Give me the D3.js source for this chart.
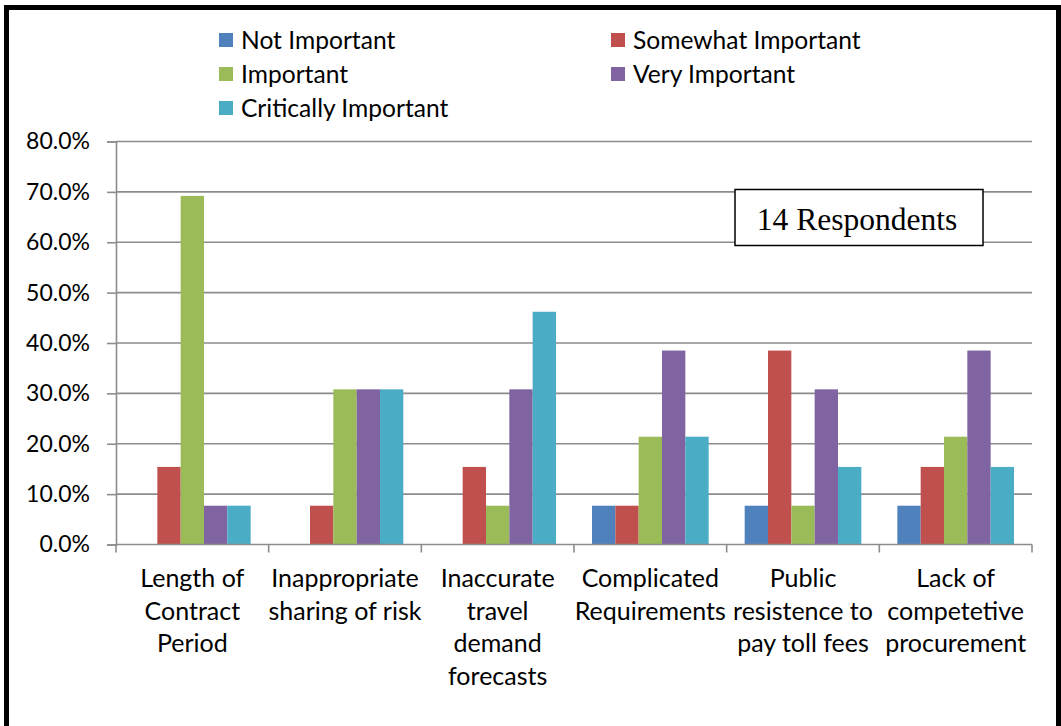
<!DOCTYPE html>
<html>
<head>
<meta charset="utf-8">
<script src="https://cdn.jsdelivr.net/npm/d3@7"></script>
<style>
  html, body { margin: 0; padding: 0; background: #fff; }
  svg { display: block; }
</style>
</head>
<body>
<svg id="chart" width="1061" height="726"></svg>
<script>
// Survey categories (each entry lists the wrapped lines of its axis label)
const categories = [
  ["Length of", "Contract", "Period"],
  ["Inappropriate", "sharing of risk"],
  ["Inaccurate", "travel", "demand", "forecasts"],
  ["Complicated", "Requirements"],
  ["Public", "resistence to", "pay toll fees"],
  ["Lack of", "competetive", "procurement"]
];

const seriesNames = ["Not Important", "Somewhat Important", "Important", "Very Important", "Critically Important"];
const seriesColors = ["#4F81BD", "#C0504D", "#9BBB59", "#8064A2", "#4BACC6"];

// Share of respondents (%) per category, one array per importance level
const notImportant       = [0,    0,    0,    7.7,  7.7,  7.7];
const somewhatImportant  = [15.4, 7.7,  15.4, 7.7,  38.5, 15.4];
const important          = [69.2, 30.8, 7.7,  21.4, 7.7,  21.4];
const veryImportant      = [7.7,  30.8, 30.8, 38.5, 30.8, 38.5];
const criticallyImportant= [7.7,  30.8, 46.2, 21.4, 15.4, 15.4];

const seriesValues = [notImportant, somewhatImportant, important, veryImportant, criticallyImportant];
const yTicks = [0, 10, 20, 30, 40, 50, 60, 70, 80];
const noteText = "14 Respondents";

const svg = d3.select("#chart");
const font = "Lato, 'Open Sans', sans-serif";

// outer frame
svg.append("rect")
  .attr("x", 6.5).attr("y", 7.5)
  .attr("width", 1052).attr("height", 740)
  .attr("fill", "none").attr("stroke", "#000").attr("stroke-width", 5);

const plot = { left: 116, right: 1032, top: 141.5, bottom: 544.5 };

const x0 = d3.scaleBand()
  .domain(d3.range(categories.length))
  .range([plot.left, plot.right])
  .paddingInner(0.236).paddingOuter(0.118);

const x1 = d3.scaleBand()
  .domain(d3.range(seriesNames.length))
  .range([0, x0.bandwidth()]);

const y = d3.scaleLinear().domain([0, 80]).range([plot.bottom, plot.top]);

// gridlines
svg.append("g")
  .selectAll("line")
  .data(yTicks.filter(t => t > 0))
  .join("line")
  .attr("x1", plot.left).attr("x2", plot.right)
  .attr("y1", d => y(d)).attr("y2", d => y(d))
  .attr("stroke", "#8c8c8c").attr("stroke-width", 1.6);

// y axis
const yAxis = svg.append("g")
  .attr("transform", `translate(${plot.left},0)`)
  .call(d3.axisLeft(y).tickValues(yTicks).tickFormat(d => d.toFixed(1) + "%").tickSizeOuter(0).tickSize(9).tickPadding(6));
yAxis.select(".domain").attr("stroke", "#8c8c8c").attr("stroke-width", 1.6);
yAxis.selectAll(".tick line").attr("stroke", "#8c8c8c").attr("stroke-width", 1.6);
yAxis.selectAll(".tick text")
  .attr("fill", "#000").attr("font-family", font).attr("font-size", 23)
  .attr("x", -26).attr("text-anchor", "end");

// bars
const groups = svg.append("g")
  .selectAll("g")
  .data(categories.map((c, i) => i))
  .join("g")
  .attr("transform", i => `translate(${x0(i)},0)`);

groups.selectAll("rect")
  .data(i => seriesValues.map((vals, s) => ({ s, v: vals[i] })))
  .join("rect")
  .attr("x", d => x1(d.s))
  .attr("width", x1.bandwidth())
  .attr("y", d => y(d.v))
  .attr("height", d => y(0) - y(d.v))
  .attr("fill", d => seriesColors[d.s]);

// x axis line and category dividers
const step = (plot.right - plot.left) / categories.length;
svg.append("line")
  .attr("x1", plot.left).attr("x2", plot.right)
  .attr("y1", y(0)).attr("y2", y(0))
  .attr("stroke", "#8c8c8c").attr("stroke-width", 1.6);
svg.append("g")
  .selectAll("line")
  .data(d3.range(categories.length + 1))
  .join("line")
  .attr("x1", i => plot.left + i * step).attr("x2", i => plot.left + i * step)
  .attr("y1", y(0)).attr("y2", y(0) + 8)
  .attr("stroke", "#8c8c8c").attr("stroke-width", 1.6);

// category labels
const catLabels = svg.append("g")
  .selectAll("text")
  .data(categories)
  .join("text")
  .attr("x", (d, i) => x0(i) + x0.bandwidth() / 2)
  .attr("y", 587)
  .attr("text-anchor", "middle")
  .attr("font-family", font).attr("font-size", 25).attr("fill", "#000");
catLabels.selectAll("tspan")
  .data(d => d)
  .join("tspan")
  .attr("x", function() { return this.parentNode.getAttribute("x"); })
  .attr("dy", (d, i) => i === 0 ? 0 : 32.5)
  .text(d => d);

// legend
const legendPos = [
  [219, 40], [611, 40],
  [219, 74], [611, 74],
  [219, 108]
];
const legend = svg.append("g")
  .selectAll("g")
  .data(seriesNames)
  .join("g")
  .attr("transform", (d, i) => `translate(${legendPos[i][0]},${legendPos[i][1]})`);
legend.append("rect")
  .attr("x", 0).attr("y", -7).attr("width", 14).attr("height", 14)
  .attr("fill", (d, i) => seriesColors[i]);
legend.append("text")
  .attr("x", 22).attr("y", 0).attr("dy", "0.35em")
  .attr("font-family", font).attr("font-size", 24.6).attr("fill", "#000")
  .text(d => d);

// respondents note
svg.append("rect")
  .attr("x", 735).attr("y", 189.5).attr("width", 248).attr("height", 56)
  .attr("fill", "#fff").attr("stroke", "#000").attr("stroke-width", 1.5);
svg.append("text")
  .attr("x", 857).attr("y", 219).attr("dy", "0.35em")
  .attr("text-anchor", "middle")
  .attr("font-family", "'Liberation Serif', 'Times New Roman', serif")
  .attr("font-size", 31.5).attr("fill", "#000")
  .text(noteText);
</script>
</body>
</html>
